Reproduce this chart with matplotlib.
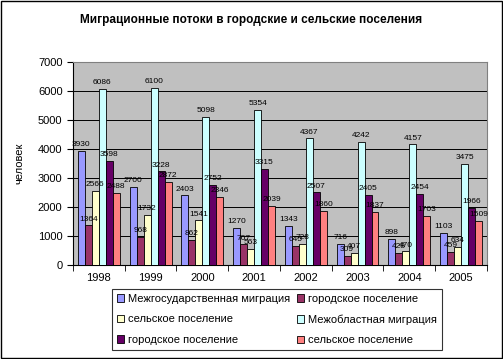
import matplotlib.pyplot as plt
import numpy as np
from matplotlib.patches import Rectangle

plt.rcParams['font.family'] = ['Liberation Sans', 'DejaVu Sans']

years = ["1998", "1999", "2000", "2001", "2002", "2003", "2004", "2005"]
series_names = ["Межгосударственная миграция", "городское поселение", "сельское поселение",
                "Межобластная миграция", "городское поселение", "сельское поселение"]
mezhgos = [3930, 2700, 2403, 1270, 1343, 716, 898, 1103]
mezhgos_gor = [1364, 968, 862, 707, 645, 309, 428, 459]
mezhgos_sel = [2566, 1732, 1541, 563, 728, 407, 470, 634]
mezhobl = [6086, 6100, 5098, 5354, 4367, 4242, 4157, 3475]
mezhobl_gor = [3598, 3228, 2752, 3315, 2507, 2405, 2454, 1966]
mezhobl_sel = [2488, 2872, 2346, 2039, 1860, 1837, 1703, 1509]
colors = ["#9999FF", "#993366", "#FFFFCC", "#CCFFFF", "#660066", "#FF8080"]

data = [mezhgos, mezhgos_gor, mezhgos_sel, mezhobl, mezhobl_gor, mezhobl_sel]

fig = plt.figure(figsize=(5.03, 3.59), dpi=100)
ax = fig.add_axes([0.145, 0.262, 0.823, 0.565])
ax.set_facecolor("#C0C0C0")

x = np.arange(len(years))
w = 0.135
handles = []
for i, (vals, c) in enumerate(zip(data, colors)):
    bars = ax.bar(x + (i - 2.5) * w, vals, w, color=c, edgecolor="black", linewidth=0.6,
                  label=series_names[i], zorder=3)
    ax.bar_label(bars, padding=2, fontsize=6, zorder=5)
    handles.append(bars)

ax.set_xlim(-0.5, len(years) - 0.5)
ax.set_ylim(0, 7000)
ax.set_yticks(range(0, 7001, 1000))
ax.yaxis.grid(True, color="black", linewidth=0.7, zorder=0)
ax.set_xticks(x)
ax.set_xticklabels(years, fontsize=8)
ax.set_xticks(np.arange(-0.5, len(years)), minor=True)
ax.tick_params(axis="x", which="major", length=0, pad=6)
ax.tick_params(axis="x", which="minor", length=4, direction="out")
ax.tick_params(axis="y", labelsize=8, length=4, direction="out")
for s in ["top", "right"]:
    ax.spines[s].set_color("#808080")
ax.spines["left"].set_color("black")
ax.spines["bottom"].set_color("black")

ax.set_ylabel("человек", fontsize=8, labelpad=10)
fig.text(0.5, 0.935, "Миграционные потоки в городские и сельские поселения",
         ha="center", fontsize=8.5, fontweight="bold")

order = [0, 2, 4, 1, 3, 5]
leg = fig.legend([handles[i] for i in order], [series_names[i] for i in order],
                 ncol=2, loc="center", bbox_to_anchor=(0.55, 0.11), fontsize=8,
                 frameon=True, fancybox=False, edgecolor="black", handlelength=0.7,
                 handleheight=0.7, handletextpad=0.3, columnspacing=0.6,
                 labelspacing=0.95, borderpad=0.45)
leg.get_frame().set_linewidth(0.8)

fig.patches.append(Rectangle((0.002, 0.003), 0.996, 0.994, transform=fig.transFigure,
                             fill=False, edgecolor="black", linewidth=1))

plt.savefig("out.png", dpi=100)
